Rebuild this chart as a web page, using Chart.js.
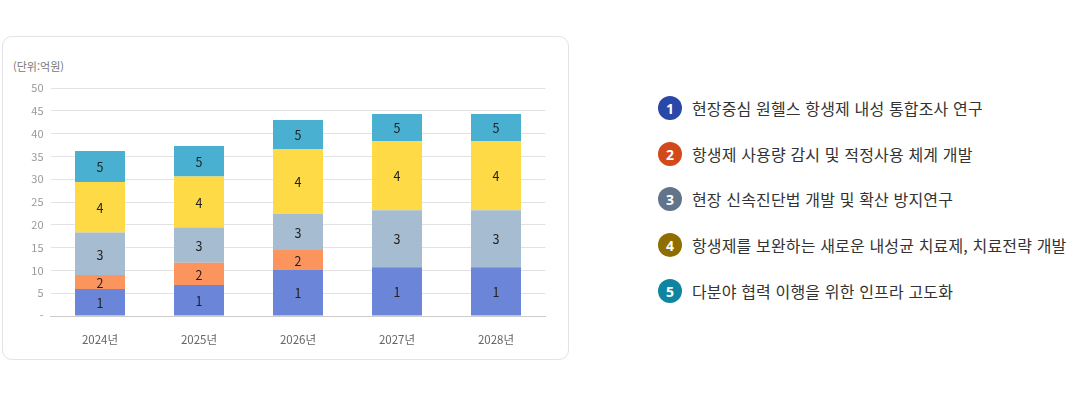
<!DOCTYPE html>
<html lang="ko">
<head>
<meta charset="utf-8">
<script src="https://cdn.jsdelivr.net/npm/chart.js@4.4.1/dist/chart.umd.min.js"></script>
<style>
  html, body { margin: 0; padding: 0; background: #fff; }
  body { width: 1070px; height: 397px; position: relative; overflow: hidden;
         font-family: "Noto Sans CJK KR", "Noto Sans", sans-serif; }
  #card { position: absolute; left: 2px; top: 36px; width: 567px; height: 324px;
          border: 1px solid #e3e3e3; border-radius: 10px; box-sizing: border-box; }
  #wrap { position: absolute; left: 0; top: 0; width: 570px; height: 370px; }
  #unit { position: absolute; left: 13px; top: 58px; font-size: 11px; color: #777; }
  #legend { position: absolute; left: 658px; top: 0; margin: 0; padding: 0; list-style: none; }
  #legend li { position: absolute; left: 0; white-space: nowrap; display: flex; align-items: center;
               font-size: 16px; color: #333; height: 24px; letter-spacing: 0.15px; }
  #legend .num { width: 24px; height: 24px; border-radius: 50%; color: #fff; font-weight: 700;
                 font-size: 14px; display: inline-flex; align-items: center; justify-content: center;
                 margin-right: 10px; letter-spacing: 0; font-family: "Noto Sans", "Liberation Sans", sans-serif; }
</style>
</head>
<body>
<div id="card"></div>
<div id="unit">(단위:억원)</div>
<div id="wrap"><canvas id="c" width="570" height="370"></canvas></div>
<ul id="legend"></ul>
<script>
const categories = ["2024년", "2025년", "2026년", "2027년", "2028년"];
const seriesNames = [
  "현장중심 원헬스 항생제 내성 통합조사 연구",
  "항생제 사용량 감시 및 적정사용 체계 개발",
  "현장 신속진단법 개발 및 확산 방지연구",
  "항생제를 보완하는 새로운 내성균 치료제, 치료전략 개발",
  "다분야 협력 이행을 위한 인프라 고도화"
];
const series1 = [5.9, 6.8, 10.1, 10.7, 10.7];
const series2 = [3.1, 4.9, 4.4, 0, 0];
const series3 = [9.3, 7.7, 7.9, 12.5, 12.5];
const series4 = [11.1, 11.2, 14.2, 15.2, 15.2];
const series5 = [6.8, 6.7, 6.4, 5.9, 5.9];
const yTicks = [0, 5, 10, 15, 20, 25, 30, 35, 40, 45, 50];

const barColors = ["#6b86d9", "#fc945e", "#a6bcd1", "#ffda47", "#4ab0d1"];
const badgeColors = ["#2a48a8", "#d2491a", "#62748a", "#8f6e00", "#1085a0"];
const seriesData = [series1, series2, series3, series4, series5];

// HTML legend
const legendEl = document.getElementById('legend');
const legendY = [96, 142, 187, 233, 279];
seriesNames.forEach((name, i) => {
  const li = document.createElement('li');
  li.style.top = legendY[i] + 'px';
  const n = document.createElement('span');
  n.className = 'num';
  n.style.background = badgeColors[i];
  n.textContent = String(i + 1);
  li.appendChild(n);
  li.appendChild(document.createTextNode(name));
  legendEl.appendChild(li);
});

const segLabels = {
  id: 'segLabels',
  afterDatasetsDraw(chart) {
    const ctx = chart.ctx;
    ctx.save();
    ctx.font = '12.5px "Noto Sans CJK KR", "Noto Sans", sans-serif';
    ctx.fillStyle = '#222';
    ctx.textAlign = 'center';
    ctx.textBaseline = 'middle';
    chart.data.datasets.forEach((ds, di) => {
      const meta = chart.getDatasetMeta(di);
      meta.data.forEach((bar, j) => {
        if (!ds.data[j]) return;
        const p = bar.getProps(['x', 'y', 'base'], true);
        ctx.fillText(String(di + 1), p.x, (p.y + p.base) / 2 + 1);
      });
    });
    ctx.restore();
  }
};

new Chart(document.getElementById('c'), {
  type: 'bar',
  data: {
    labels: categories,
    datasets: seriesData.map((d, i) => ({
      label: seriesNames[i],
      data: d,
      backgroundColor: barColors[i],
      borderWidth: 0,
      barPercentage: 0.505,
      categoryPercentage: 1.0
    }))
  },
  options: {
    responsive: false,
    animation: false,
    layout: { padding: { top: 88, right: 24.5, bottom: 0, left: 0 } },
    plugins: { legend: { display: false }, tooltip: { enabled: false } },
    scales: {
      x: {
        stacked: true,
        grid: { display: false },
        border: { display: true, color: '#cccccc', width: 1 },
        ticks: { color: '#666', padding: 9,
                 font: { size: 11.5, family: '"Noto Sans CJK KR", "Noto Sans", sans-serif' } },
        afterFit(scale) { scale.height = 54; }
      },
      y: {
        stacked: true,
        min: 0, max: 50,
        afterBuildTicks(scale) { scale.ticks = yTicks.map(v => ({ value: v })); },
        grid: { color: '#e2e2e2', drawTicks: false },
        border: { display: false },
        ticks: {
          color: '#999', padding: 7,
          font: { size: 11, family: '"Noto Sans CJK KR", "Noto Sans", sans-serif' },
          callback: v => (v === 0 ? '-' : String(v))
        },
        afterFit(scale) { scale.width = 50.5; }
      }
    }
  },
  plugins: [segLabels]
});
</script>
</body>
</html>
